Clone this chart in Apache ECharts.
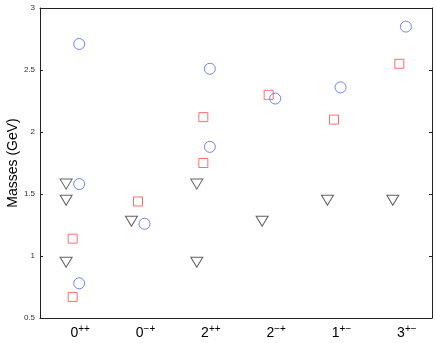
<!DOCTYPE html>
<html>
<head>
<meta charset="utf-8">
<script src="https://cdn.jsdelivr.net/npm/echarts@6/dist/echarts.min.js"></script>
<style>
  html, body { margin: 0; padding: 0; background: #fff; }
  #chart { width: 436px; height: 343px; }
</style>
</head>
<body>
<div id="chart"></div>
<script>
// quantum numbers on the x axis: [base, superscript]
const states = [['0', '++'], ['0', '\u2212+'], ['2', '++'], ['2', '\u2212+'], ['1', '+\u2212'], ['3', '+\u2212']];

// masses in GeV, as [state index (1-based), mass]
const triangleMasses = [
  [1, 1.58], [1, 1.45], [1, 0.95],
  [2, 1.28],
  [3, 1.58], [3, 0.95],
  [4, 1.28],
  [5, 1.45],
  [6, 1.45]
];
const squareMasses = [
  [1, 1.14], [1, 0.67],
  [2, 1.44],
  [3, 2.12], [3, 1.75],
  [4, 2.30],
  [5, 2.10],
  [6, 2.55]
];
const circleMasses = [
  [1, 2.71], [1, 1.58], [1, 0.78],
  [2, 1.26],
  [3, 2.51], [3, 1.88],
  [4, 2.27],
  [5, 2.36],
  [6, 2.85]
];

const yTicks = [0.5, 1, 1.5, 2, 2.5, 3];

const font = 'Liberation Sans, Arial, Helvetica, sans-serif';
const axisColor = '#222';

// small horizontal offset inside each category so markers don't sit on top of each other
const shift = (arr, dx) => arr.map(([i, m]) => [i + dx, m]);

const chart = echarts.init(document.getElementById('chart'));
chart.setOption({
  animation: false,
  textStyle: { fontFamily: font },
  grid: { left: 40, right: 4, top: 8, bottom: 25, outerBoundsMode: 'none', containLabel: false },
  xAxis: [
    {
      type: 'category',
      position: 'bottom',
      data: states.map(s => '{b|' + s[0] + '}{s|' + s[1] + '}'),
      boundaryGap: true,
      axisLine: { lineStyle: { color: axisColor, width: 1 } },
      axisTick: { show: false },
      axisLabel: {
        interval: 0,
        margin: 6,
        padding: [0, 0, 0, 15],
        rich: {
          b: { fontSize: 14, color: '#000', fontFamily: font, verticalAlign: 'bottom', lineHeight: 16 },
          s: { fontSize: 10, color: '#000', fontFamily: font, verticalAlign: 'top', lineHeight: 16, padding: [0, 0, 6, 0] }
        }
      },
      splitLine: { show: false }
    },
    {
      type: 'value',
      position: 'top',
      min: 0.5,
      max: 6.5,
      axisLine: { show: true, lineStyle: { color: axisColor, width: 1 } },
      axisTick: { show: false },
      axisLabel: { show: false },
      splitLine: { show: false }
    }
  ],
  yAxis: [
    {
      type: 'value',
      position: 'left',
      min: yTicks[0],
      max: yTicks[yTicks.length - 1],
      interval: 0.5,
      name: 'Masses (GeV)',
      nameLocation: 'middle',
      nameGap: 20,
      nameMoveOverlap: false,
      nameTextStyle: { fontSize: 14, color: '#000', fontFamily: font },
      axisLine: { show: true, lineStyle: { color: axisColor, width: 1 } },
      axisTick: { show: true, inside: true, length: 3, lineStyle: { color: axisColor } },
      axisLabel: { fontSize: 8, color: '#333', margin: 5 },
      splitLine: { show: false }
    },
    {
      type: 'value',
      position: 'right',
      min: yTicks[0],
      max: yTicks[yTicks.length - 1],
      interval: 0.5,
      axisLine: { show: true, lineStyle: { color: axisColor, width: 1 } },
      axisTick: { show: true, inside: true, length: 3, lineStyle: { color: axisColor } },
      axisLabel: { show: false },
      splitLine: { show: false }
    }
  ],
  series: [
    {
      type: 'scatter',
      xAxisIndex: 1,
      yAxisIndex: 0,
      data: shift(triangleMasses, -0.1),
      symbol: 'triangle',
      symbolRotate: 180,
      symbolSize: [12, 10],
      itemStyle: { color: 'rgba(0,0,0,0)', borderColor: '#3a3a3a', borderWidth: 1 }
    },
    {
      type: 'scatter',
      xAxisIndex: 1,
      yAxisIndex: 0,
      data: shift(squareMasses, 0),
      symbol: 'rect',
      symbolSize: 9,
      itemStyle: { color: 'rgba(0,0,0,0)', borderColor: '#ff4a4a', borderWidth: 1 }
    },
    {
      type: 'scatter',
      xAxisIndex: 1,
      yAxisIndex: 0,
      data: shift(circleMasses, 0.1),
      symbol: 'circle',
      symbolSize: 11,
      itemStyle: { color: 'rgba(0,0,0,0)', borderColor: '#4d66ff', borderWidth: 1 }
    }
  ]
});
</script>
</body>
</html>
